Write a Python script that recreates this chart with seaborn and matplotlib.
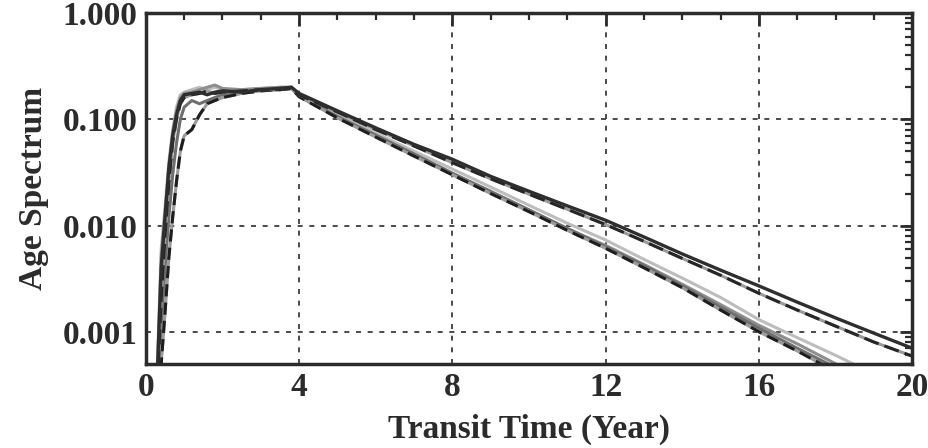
import numpy as np
import pandas as pd
import matplotlib
matplotlib.use("Agg")
import matplotlib.pyplot as plt
import matplotlib.ticker as mticker
import seaborn as sns

sns.set_theme(style="white")
plt.rcParams['font.family'] = ['Liberation Serif', 'DejaVu Serif']
plt.rcParams['font.weight'] = 'bold'

# transit time (year)
years = [0.3, 0.4, 0.5, 0.6, 0.7, 0.8, 0.9, 1.0, 1.2, 1.4, 1.6, 1.8, 2.0, 2.5, 3.0, 3.5, 3.8,
         4, 5, 6, 7, 8, 9, 10, 11, 12, 13, 14, 15, 16, 17, 18, 19, 20]

# age spectrum of each run
run_a = [0.0004, 0.004, 0.012, 0.035, 0.07, 0.11, 0.15, 0.17, 0.175, 0.18, 0.17, 0.18, 0.185, 0.18, 0.19, 0.195, 0.2,
         0.175, 0.12, 0.083, 0.058, 0.042, 0.029, 0.021, 0.0153, 0.0112, 0.0078, 0.0054, 0.0038, 0.0027, 0.0019, 0.00135, 0.00097, 0.0007]
run_b = [0.0003, 0.002, 0.008, 0.025, 0.06, 0.1, 0.14, 0.16, 0.17, 0.175, 0.185, 0.175, 0.18, 0.185, 0.19, 0.19, 0.195,
         0.17, 0.117, 0.08, 0.056, 0.039, 0.0275, 0.0197, 0.0142, 0.0102, 0.0071, 0.0049, 0.0034, 0.0023, 0.0016, 0.00113, 0.0008, 0.00059]
run_c = [0.0005, 0.006, 0.015, 0.04, 0.08, 0.13, 0.17, 0.18, 0.19, 0.2, 0.19, 0.2, 0.19, 0.19, 0.195, 0.2, 0.2,
         0.168, 0.11, 0.074, 0.05, 0.034, 0.023, 0.0155, 0.0105, 0.0073, 0.0048, 0.0032, 0.0021, 0.0013, 0.00088, 0.0006, 0.0004, 0.00028]
run_d = [0.0004, 0.005, 0.013, 0.035, 0.075, 0.12, 0.16, 0.175, 0.18, 0.19, 0.2, 0.21, 0.195, 0.19, 0.195, 0.2, 0.2,
         0.165, 0.105, 0.07, 0.047, 0.031, 0.021, 0.014, 0.0093, 0.0065, 0.0043, 0.0028, 0.0018, 0.00115, 0.00077, 0.0005, 0.00033, 0.0002]
run_e = [0.0002, 0.0005, 0.0015, 0.005, 0.012, 0.026, 0.05, 0.07, 0.08, 0.11, 0.14, 0.15, 0.16, 0.175, 0.185, 0.19, 0.195,
         0.163, 0.103, 0.068, 0.045, 0.030, 0.020, 0.0135, 0.009, 0.0061, 0.004, 0.0026, 0.0016, 0.001, 0.00066, 0.00042, 0.00028, 0.00018]
run_f = [0.0003, 0.001, 0.004, 0.012, 0.03, 0.06, 0.1, 0.13, 0.15, 0.14, 0.15, 0.16, 0.17, 0.18, 0.19, 0.195, 0.2,
         0.165, 0.106, 0.071, 0.047, 0.031, 0.0208, 0.014, 0.0094, 0.0063, 0.0042, 0.0027, 0.0017, 0.00108, 0.0007, 0.00046, 0.0003, 0.0002]

xticks = [0, 4, 8, 12, 16, 20]
yticks = [0.001, 0.01, 0.1, 1.0]

ink = '#2b2b2b'

fig = plt.figure(figsize=(9.29, 4.48), dpi=100)
ax = fig.add_axes([0.157, 0.188, 0.825, 0.783])

# grey underlay first, dark ones on top
sns.lineplot(x=years, y=run_c, color='#bdbdbd', lw=2.2, ax=ax)
sns.lineplot(x=years, y=run_d, color='#8e8e8e', lw=2.2, ax=ax)
sns.lineplot(x=years, y=run_f, color='#6e6e6e', lw=2.2, ax=ax)
sns.lineplot(x=years, y=run_e, color='#9a9a9a', lw=2.2, ax=ax)
sns.lineplot(x=years, y=run_e, color='#1e1e1e', lw=2.2, ax=ax, linestyle=(0, (4, 2)))
sns.lineplot(x=years, y=run_b, color='#9a9a9a', lw=2.2, ax=ax)
sns.lineplot(x=years, y=run_b, color='#262626', lw=2.2, ax=ax, linestyle=(0, (5, 2)))
sns.lineplot(x=years, y=run_a, color='#2e2e2e', lw=2.4, ax=ax)

ax.set_yscale('log')
ax.set_xlim(0, 20)
ax.set_ylim(0.0005, 1.0)

ax.set_xticks(xticks)
ax.set_xticklabels([str(t) for t in xticks])
ax.xaxis.set_minor_locator(mticker.MultipleLocator(1))
ax.set_yticks(yticks)
ax.set_yticklabels([f'{t:.3f}' for t in yticks])
ax.yaxis.set_minor_locator(mticker.LogLocator(base=10, subs=np.arange(2, 10)))
ax.yaxis.set_minor_formatter(mticker.NullFormatter())

ax.grid(True, which='major', color=ink, ls=(0, (3, 4)), lw=1.2)

ax.tick_params(which='both', direction='in', top=True, right=True, colors=ink, width=2)
ax.tick_params(which='major', length=9, labelsize=24, pad=6)
ax.tick_params(which='minor', length=5, width=1.6)
for lab in ax.get_xticklabels() + ax.get_yticklabels():
    lab.set_fontweight('bold')
    lab.set_color(ink)

for s in ax.spines.values():
    s.set_color(ink)
    s.set_linewidth(2.5)

ax.set_xlabel('Transit Time (Year)', fontsize=24, fontweight='bold', color=ink, labelpad=8)
ax.set_ylabel('Age Spectrum', fontsize=24, fontweight='bold', color=ink, labelpad=10)

fig.savefig('out.png', dpi=100)
